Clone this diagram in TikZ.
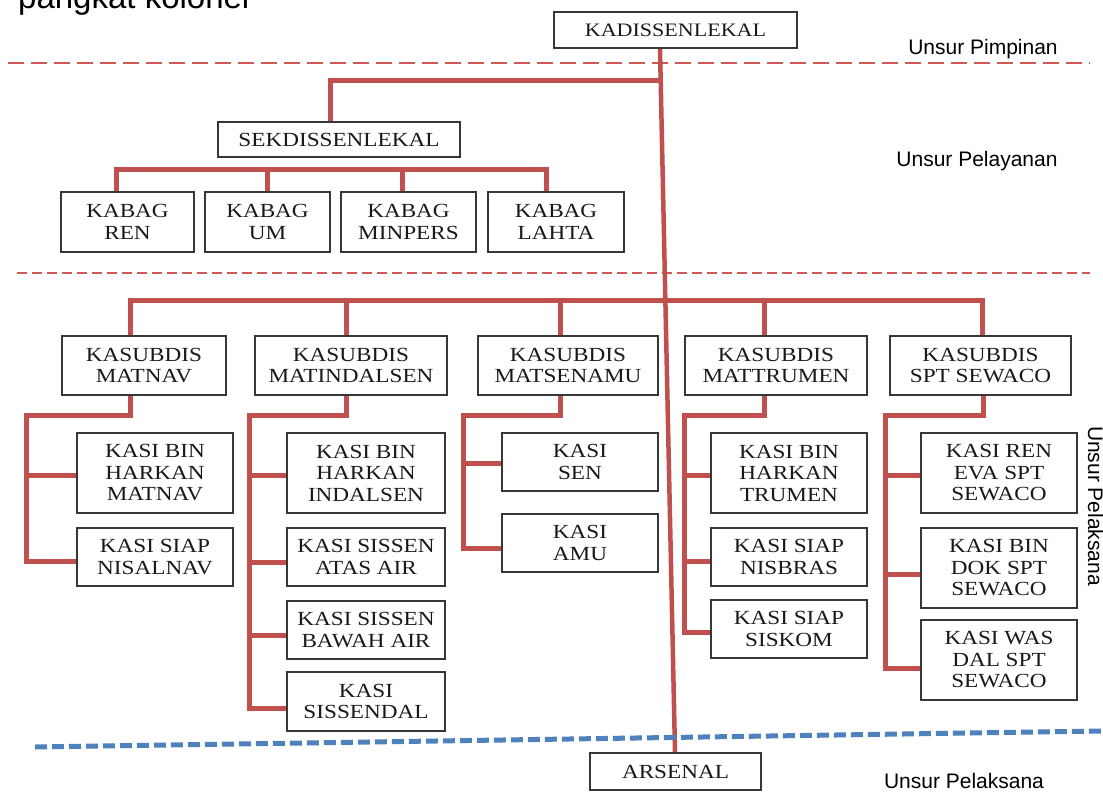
\documentclass[tikz,border=0pt]{standalone}
\usepackage{fontspec}
\setmainfont{Liberation Serif}[FakeStretch=1.16]
\newfontfamily\labfont{Liberation Sans}
\usetikzlibrary{calc}
\definecolor{conred}{RGB}{192,80,77}
\definecolor{dashred}{RGB}{208,88,86}
\definecolor{dashblue}{RGB}{79,129,189}
\definecolor{boxline}{RGB}{55,55,55}
\definecolor{boxtext}{RGB}{25,25,25}
\newcommand\bxfont{\fontsize{20}{21.5}\selectfont}
\newcommand\lbfont{\labfont\fontsize{21}{24}\selectfont}
\pgfdeclarelayer{paper}
\pgfdeclarelayer{wires}
\pgfsetlayers{paper,wires,main}
\begin{document}
\begin{tikzpicture}[x=1pt,y=-1pt,
  box/.style={draw=boxline, line width=1.3pt, fill=white, inner sep=0pt, align=center, font=\bxfont, text=boxtext},
  conn/.style={draw=conred, line width=5pt},
  trunk/.style={draw=conred, line width=4.5pt},
  lab/.style={font=\lbfont, inner sep=0pt, text=black},
  reddashA/.style={draw=dashred, line width=2pt, dash pattern=on 16pt off 7pt},
  reddashB/.style={draw=dashred, line width=2pt, dash pattern=on 10pt off 5pt},
  bluedash/.style={draw=dashblue, line width=5pt, dash pattern=on 12pt off 5pt}]
\clip (0,0) rectangle (1103,792);
\begin{pgfonlayer}{paper}
\fill[white] (0,0) rectangle (1103,792);
\end{pgfonlayer}

% cut-off heading text
\node[font=\labfont\fontsize{33}{36}\selectfont, anchor=base west, inner sep=0pt] (head) at (18,9) {pangkat kolonel};

% labels
\node[lab, anchor=base] (l1) at (983,55) {Unsur Pimpinan};
\node[lab, anchor=base] (l2) at (977,166) {Unsur Pelayanan};
\node[lab, anchor=base, rotate=-90] (l3) at (1088,506) {Unsur Pelaksana};
\node[lab, anchor=base] (l4) at (964,788) {Unsur Pelaksana};

% top and bottom
\node[box, font=\fontsize{19}{21}\selectfont, minimum width=243, minimum height=36] (kad) at (675.5,30) {KADISSENLEKAL};
\node[box, minimum width=171, minimum height=37] (ars) at (675.5,771.5) {ARSENAL};

% secretary
\node[box, minimum width=242, minimum height=35] (sek) at (339,139.5) {SEKDISSENLEKAL};
\node[box, minimum width=133, minimum height=60] (ren) at (127.5,222) {KABAG\\REN};
\node[box, minimum width=125, minimum height=60] (um) at (267.5,222) {KABAG\\UM};
\node[box, minimum width=135, minimum height=60] (minpers) at (408.5,222) {KABAG\\MINPERS};
\node[box, minimum width=136, minimum height=60] (lahta) at (556,222) {KABAG\\LAHTA};

% kasubdis
\node[box, minimum width=164, minimum height=59] (matnav) at (144,365.5) {KASUBDIS\\MATNAV};
\node[box, minimum width=192, minimum height=59] (matind) at (351,365.5) {KASUBDIS\\MATINDALSEN};
\node[box, minimum width=180, minimum height=59] (matsen) at (568,365.5) {KASUBDIS\\MATSENAMU};
\node[box, minimum width=182, minimum height=59] (mattru) at (776,365.5) {KASUBDIS\\MATTRUMEN};
\node[box, minimum width=181, minimum height=59] (spt) at (980.5,365.5) {KASUBDIS\\SPT SEWACO};

% kasi columns
\node[box, minimum width=156, minimum height=80] (a1) at (155,473) {KASI BIN\\HARKAN\\MATNAV};
\node[box, minimum width=156, minimum height=58] (a2) at (155,557) {KASI SIAP\\NISALNAV};

\node[box, minimum width=158, minimum height=80] (b1) at (366,473) {KASI BIN\\HARKAN\\INDALSEN};
\node[box, minimum width=158, minimum height=58] (b2) at (366,557) {KASI SISSEN\\ATAS AIR};
\node[box, minimum width=158, minimum height=58] (b3) at (366,630) {KASI SISSEN\\BAWAH AIR};
\node[box, minimum width=158, minimum height=59] (b4) at (366,701.5) {KASI\\SISSENDAL};

\node[box, minimum width=156, minimum height=58] (c1) at (580,462) {KASI\\SEN};
\node[box, minimum width=156, minimum height=58] (c2) at (580,543) {KASI\\AMU};

\node[box, minimum width=156, minimum height=80] (d1) at (789,473) {KASI BIN\\HARKAN\\TRUMEN};
\node[box, minimum width=156, minimum height=58] (d2) at (789,557) {KASI SIAP\\NISBRAS};
\node[box, minimum width=156, minimum height=58] (d3) at (789,629) {KASI SIAP\\SISKOM};

\node[box, minimum width=156, minimum height=80] (e1) at (999,473) {KASI REN\\EVA SPT\\SEWACO};
\node[box, minimum width=156, minimum height=80] (e2) at (999,568) {KASI BIN\\DOK SPT\\SEWACO};
\node[box, minimum width=156, minimum height=80] (e3) at (999,660) {KASI WAS\\DAL SPT\\SEWACO};

\begin{pgfonlayer}{wires}
% section separators
\draw[reddashA] (8,63) -- (1090,63);
\draw[reddashB] (17,273) -- (1090,273);

% trunk
\coordinate (tA) at ($(kad.south)+(-15.5,0)$);
\coordinate (tB) at ($(ars.north)+(-0.5,0)$);
\draw[trunk] (tA) -- (tB);

% secretary branch
\draw[conn] ($(tA)!0.0455!(tB)$) -| ($(sek.north)+(-9,0)$);
\draw[conn] ($(ren.north)+(-11.5,0)$) |- ($(lahta.north)+(-10,-22)$) -- ($(lahta.north)+(-10,0)$);
\draw[conn] ($(um.north)+(0,-22)$) -- (um.north);
\draw[conn] ($(minpers.north)+(-6.5,-22)$) -- ($(minpers.north)+(-6.5,0)$);

% kasubdis bar
\draw[conn] ($(matnav.north)+(-14,0)$) |- ($(spt.north)+(1.5,-35)$) -- ($(spt.north)+(1.5,0)$);
\draw[conn] ($(matind.north)+(-5,-35)$) -- ($(matind.north)+(-5,0)$);
\draw[conn] ($(matsen.north)+(-8,-35)$) -- ($(matsen.north)+(-8,0)$);
\draw[conn] ($(mattru.north)+(-12,-35)$) -- ($(mattru.north)+(-12,0)$);

% MATNAV column
\draw[conn] ($(matnav.south)+(-14,0)$) -- ++(0,20) -| ($(a2.west)+(-50,4)$) -- ($(a2.west)+(0,4)$);
\draw[conn] ($(a1.west)+(-50,2)$) -- ($(a1.west)+(0,2)$);

% MATINDALSEN column
\draw[conn] ($(matind.south)+(-5,0)$) -- ++(0,20) -| ($(b4.west)+(-37,6.5)$) -- ($(b4.west)+(0,6.5)$);
\draw[conn] ($(b1.west)+(-37,2)$) -- ($(b1.west)+(0,2)$);
\draw[conn] ($(b2.west)+(-37,5)$) -- ($(b2.west)+(0,5)$);
\draw[conn] ($(b3.west)+(-37,5)$) -- ($(b3.west)+(0,5)$);

% MATSENAMU column
\draw[conn] ($(matsen.south)+(-8,0)$) -- ++(0,20) -| ($(c2.west)+(-38,5)$) -- ($(c2.west)+(0,5)$);
\draw[conn] ($(c1.west)+(-38,1)$) -- ($(c1.west)+(0,1)$);

% MATTRUMEN column
\draw[conn] ($(mattru.south)+(-12,0)$) -- ++(0,20) -| ($(d3.west)+(-26,3)$) -- ($(d3.west)+(0,3)$);
\draw[conn] ($(d1.west)+(-26,2)$) -- ($(d1.west)+(0,2)$);
\draw[conn] ($(d2.west)+(-26,4)$) -- ($(d2.west)+(0,4)$);

% SPT SEWACO column
\draw[conn] ($(spt.south)+(2.5,0)$) -- ++(0,20) -| ($(e3.west)+(-35,8)$) -- ($(e3.west)+(0,8)$);
\draw[conn] ($(e1.west)+(-35,2)$) -- ($(e1.west)+(0,2)$);
\draw[conn] ($(e2.west)+(-35,6)$) -- ($(e2.west)+(0,6)$);

% bottom separator
\draw[bluedash] (35,747) -- (1103,731);
\end{pgfonlayer}
\end{tikzpicture}
\end{document}
